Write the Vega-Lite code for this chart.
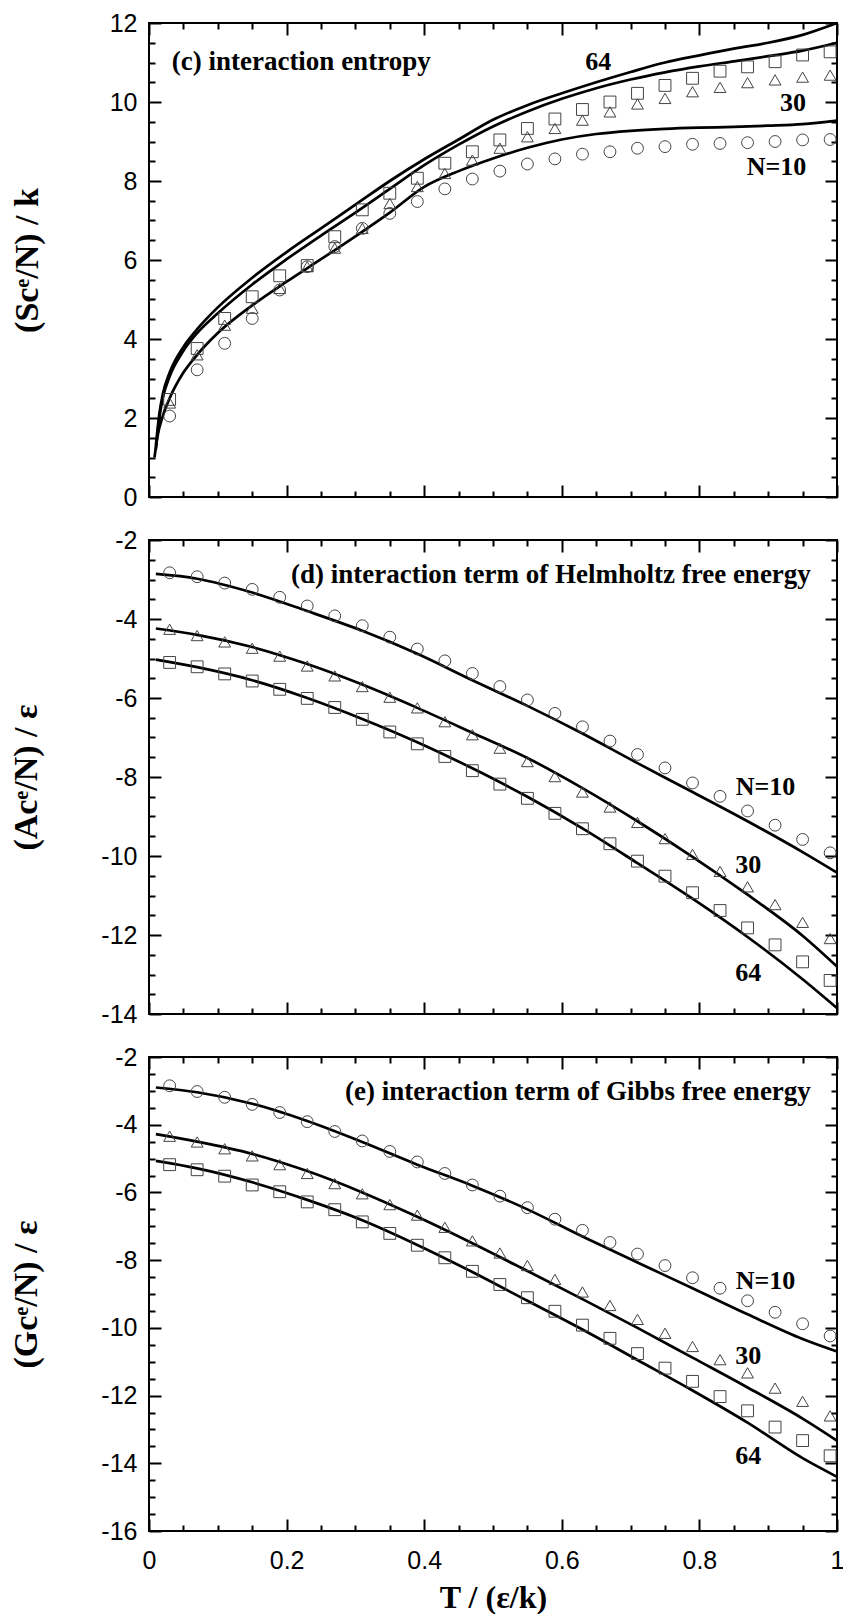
{
  "$schema": "https://vega.github.io/schema/vega-lite/v6.json",
  "background": "white",
  "padding": {"left": 8, "top": 10, "right": 0, "bottom": 0},
  "spacing": 16,
  "config": {
    "view": {"stroke": "black", "strokeWidth": 2},
    "axis": {"tickColor": "black", "tickWidth": 2, "domain": false, "grid": false, "labelColor": "black", "titleColor": "black", "labelFlush": false, "labelOverlap": false}
  },
  "datasets": {
    "lc": [
      {"N":"n64","T":0.01,"v":1.3},{"N":"n64","T":0.015,"v":2.1},{"N":"n64","T":0.02,"v":2.6},{"N":"n64","T":0.03,"v":3.15},{"N":"n64","T":0.05,"v":3.8},{"N":"n64","T":0.07,"v":4.25},{"N":"n64","T":0.1,"v":4.8},{"N":"n64","T":0.15,"v":5.55},{"N":"n64","T":0.2,"v":6.2},{"N":"n64","T":0.25,"v":6.8},{"N":"n64","T":0.3,"v":7.4},{"N":"n64","T":0.35,"v":8.0},{"N":"n64","T":0.4,"v":8.55},{"N":"n64","T":0.45,"v":9.05},{"N":"n64","T":0.5,"v":9.55},{"N":"n64","T":0.55,"v":9.92},{"N":"n64","T":0.6,"v":10.22},{"N":"n64","T":0.65,"v":10.5},{"N":"n64","T":0.7,"v":10.76},{"N":"n64","T":0.75,"v":11.0},{"N":"n64","T":0.8,"v":11.18},{"N":"n64","T":0.85,"v":11.35},{"N":"n64","T":0.9,"v":11.5},{"N":"n64","T":0.95,"v":11.7},{"N":"n64","T":1.0,"v":12.0},
      {"N":"n30","T":0.01,"v":1.2},{"N":"n30","T":0.015,"v":2.0},{"N":"n30","T":0.02,"v":2.5},{"N":"n30","T":0.03,"v":3.05},{"N":"n30","T":0.05,"v":3.7},{"N":"n30","T":0.07,"v":4.15},{"N":"n30","T":0.1,"v":4.65},{"N":"n30","T":0.15,"v":5.38},{"N":"n30","T":0.2,"v":6.02},{"N":"n30","T":0.25,"v":6.62},{"N":"n30","T":0.3,"v":7.2},{"N":"n30","T":0.35,"v":7.8},{"N":"n30","T":0.4,"v":8.4},{"N":"n30","T":0.45,"v":8.92},{"N":"n30","T":0.5,"v":9.38},{"N":"n30","T":0.55,"v":9.76},{"N":"n30","T":0.6,"v":10.08},{"N":"n30","T":0.65,"v":10.35},{"N":"n30","T":0.7,"v":10.57},{"N":"n30","T":0.75,"v":10.75},{"N":"n30","T":0.8,"v":10.9},{"N":"n30","T":0.85,"v":11.03},{"N":"n30","T":0.9,"v":11.16},{"N":"n30","T":0.95,"v":11.3},{"N":"n30","T":1.0,"v":11.5},
      {"N":"n10","T":0.008,"v":1.0},{"N":"n10","T":0.012,"v":1.5},{"N":"n10","T":0.02,"v":2.05},{"N":"n10","T":0.03,"v":2.5},{"N":"n10","T":0.05,"v":3.15},{"N":"n10","T":0.07,"v":3.6},{"N":"n10","T":0.1,"v":4.15},{"N":"n10","T":0.15,"v":4.85},{"N":"n10","T":0.2,"v":5.45},{"N":"n10","T":0.25,"v":6.02},{"N":"n10","T":0.3,"v":6.6},{"N":"n10","T":0.35,"v":7.2},{"N":"n10","T":0.4,"v":7.85},{"N":"n10","T":0.45,"v":8.25},{"N":"n10","T":0.5,"v":8.57},{"N":"n10","T":0.55,"v":8.84},{"N":"n10","T":0.6,"v":9.05},{"N":"n10","T":0.65,"v":9.19},{"N":"n10","T":0.7,"v":9.27},{"N":"n10","T":0.75,"v":9.32},{"N":"n10","T":0.8,"v":9.35},{"N":"n10","T":0.85,"v":9.37},{"N":"n10","T":0.9,"v":9.4},{"N":"n10","T":0.95,"v":9.44},{"N":"n10","T":1.0,"v":9.53}
    ],
    "ld": [
      {"N":"n10","T":0.01,"v":-2.86},{"N":"n10","T":0.07,"v":-2.98},{"N":"n10","T":0.15,"v":-3.33},{"N":"n10","T":0.23,"v":-3.8},{"N":"n10","T":0.31,"v":-4.3},{"N":"n10","T":0.39,"v":-4.88},{"N":"n10","T":0.47,"v":-5.55},{"N":"n10","T":0.55,"v":-6.2},{"N":"n10","T":0.63,"v":-6.9},{"N":"n10","T":0.71,"v":-7.65},{"N":"n10","T":0.79,"v":-8.38},{"N":"n10","T":0.87,"v":-9.12},{"N":"n10","T":0.95,"v":-9.9},{"N":"n10","T":1.0,"v":-10.42},
      {"N":"n30","T":0.01,"v":-4.24},{"N":"n30","T":0.07,"v":-4.4},{"N":"n30","T":0.15,"v":-4.71},{"N":"n30","T":0.23,"v":-5.14},{"N":"n30","T":0.31,"v":-5.66},{"N":"n30","T":0.39,"v":-6.25},{"N":"n30","T":0.47,"v":-6.88},{"N":"n30","T":0.55,"v":-7.52},{"N":"n30","T":0.63,"v":-8.28},{"N":"n30","T":0.71,"v":-9.12},{"N":"n30","T":0.79,"v":-10.02},{"N":"n30","T":0.87,"v":-10.98},{"N":"n30","T":0.95,"v":-12.02},{"N":"n30","T":1.0,"v":-12.8},
      {"N":"n64","T":0.01,"v":-5.03},{"N":"n64","T":0.07,"v":-5.22},{"N":"n64","T":0.15,"v":-5.55},{"N":"n64","T":0.23,"v":-6.0},{"N":"n64","T":0.31,"v":-6.53},{"N":"n64","T":0.39,"v":-7.12},{"N":"n64","T":0.47,"v":-7.78},{"N":"n64","T":0.55,"v":-8.5},{"N":"n64","T":0.63,"v":-9.3},{"N":"n64","T":0.71,"v":-10.18},{"N":"n64","T":0.79,"v":-11.08},{"N":"n64","T":0.87,"v":-12.05},{"N":"n64","T":0.95,"v":-13.12},{"N":"n64","T":1.0,"v":-13.85}
    ],
    "le": [
      {"N":"n10","T":0.01,"v":-2.9},{"N":"n10","T":0.07,"v":-3.04},{"N":"n10","T":0.15,"v":-3.38},{"N":"n10","T":0.23,"v":-3.89},{"N":"n10","T":0.31,"v":-4.51},{"N":"n10","T":0.39,"v":-5.18},{"N":"n10","T":0.47,"v":-5.8},{"N":"n10","T":0.55,"v":-6.5},{"N":"n10","T":0.63,"v":-7.3},{"N":"n10","T":0.71,"v":-8.07},{"N":"n10","T":0.79,"v":-8.83},{"N":"n10","T":0.87,"v":-9.6},{"N":"n10","T":0.95,"v":-10.33},{"N":"n10","T":1.0,"v":-10.7},
      {"N":"n30","T":0.01,"v":-4.28},{"N":"n30","T":0.07,"v":-4.5},{"N":"n30","T":0.15,"v":-4.86},{"N":"n30","T":0.23,"v":-5.37},{"N":"n30","T":0.31,"v":-6.0},{"N":"n30","T":0.39,"v":-6.72},{"N":"n30","T":0.47,"v":-7.5},{"N":"n30","T":0.55,"v":-8.32},{"N":"n30","T":0.63,"v":-9.15},{"N":"n30","T":0.71,"v":-10.0},{"N":"n30","T":0.79,"v":-10.88},{"N":"n30","T":0.87,"v":-11.76},{"N":"n30","T":0.95,"v":-12.68},{"N":"n30","T":1.0,"v":-13.33},
      {"N":"n64","T":0.01,"v":-5.07},{"N":"n64","T":0.07,"v":-5.29},{"N":"n64","T":0.15,"v":-5.7},{"N":"n64","T":0.23,"v":-6.22},{"N":"n64","T":0.31,"v":-6.82},{"N":"n64","T":0.39,"v":-7.55},{"N":"n64","T":0.47,"v":-8.35},{"N":"n64","T":0.55,"v":-9.2},{"N":"n64","T":0.63,"v":-10.05},{"N":"n64","T":0.71,"v":-10.95},{"N":"n64","T":0.79,"v":-11.85},{"N":"n64","T":0.87,"v":-12.8},{"N":"n64","T":0.95,"v":-13.85},{"N":"n64","T":1.0,"v":-14.4}
    ],
    "pc": [
      {"T":0.03,"n10":2.05,"n30":2.38,"n64":2.47},{"T":0.07,"n10":3.22,"n30":3.6,"n64":3.76},{"T":0.11,"n10":3.89,"n30":4.35,"n64":4.52},{"T":0.15,"n10":4.52,"n30":4.78,"n64":5.07},{"T":0.19,"n10":5.24,"n30":5.28,"n64":5.6},{"T":0.23,"n10":5.83,"n30":5.83,"n64":5.86},{"T":0.27,"n10":6.34,"n30":6.3,"n64":6.59},{"T":0.31,"n10":6.8,"n30":6.8,"n64":7.27},{"T":0.35,"n10":7.18,"n30":7.43,"n64":7.69},{"T":0.39,"n10":7.48,"n30":7.86,"n64":8.07},{"T":0.43,"n10":7.8,"n30":8.19,"n64":8.45},{"T":0.47,"n10":8.05,"n30":8.53,"n64":8.74},{"T":0.51,"n10":8.25,"n30":8.83,"n64":9.04},{"T":0.55,"n10":8.43,"n30":9.12,"n64":9.33},{"T":0.59,"n10":8.56,"n30":9.33,"n64":9.57},{"T":0.63,"n10":8.68,"n30":9.54,"n64":9.81},{"T":0.67,"n10":8.74,"n30":9.75,"n64":10.0},{"T":0.71,"n10":8.83,"n30":9.95,"n64":10.22},{"T":0.75,"n10":8.87,"n30":10.09,"n64":10.42},{"T":0.79,"n10":8.93,"n30":10.26,"n64":10.6},{"T":0.83,"n10":8.95,"n30":10.37,"n64":10.78},{"T":0.87,"n10":8.97,"n30":10.49,"n64":10.89},{"T":0.91,"n10":9.0,"n30":10.56,"n64":11.02},{"T":0.95,"n10":9.04,"n30":10.63,"n64":11.19},{"T":0.99,"n10":9.05,"n30":10.68,"n64":11.27}
    ],
    "pd": [
      {"T":0.03,"n10":-2.83,"n30":-4.26,"n64":-5.1},{"T":0.07,"n10":-2.93,"n30":-4.42,"n64":-5.21},{"T":0.11,"n10":-3.09,"n30":-4.58,"n64":-5.39},{"T":0.15,"n10":-3.25,"n30":-4.74,"n64":-5.57},{"T":0.19,"n10":-3.45,"n30":-4.94,"n64":-5.78},{"T":0.23,"n10":-3.67,"n30":-5.19,"n64":-6.01},{"T":0.27,"n10":-3.92,"n30":-5.44,"n64":-6.24},{"T":0.31,"n10":-4.17,"n30":-5.71,"n64":-6.54},{"T":0.35,"n10":-4.46,"n30":-5.98,"n64":-6.86},{"T":0.39,"n10":-4.76,"n30":-6.25,"n64":-7.16},{"T":0.43,"n10":-5.06,"n30":-6.6,"n64":-7.48},{"T":0.47,"n10":-5.38,"n30":-6.93,"n64":-7.84},{"T":0.51,"n10":-5.71,"n30":-7.27,"n64":-8.18},{"T":0.55,"n10":-6.05,"n30":-7.61,"n64":-8.54},{"T":0.59,"n10":-6.39,"n30":-7.99,"n64":-8.92},{"T":0.63,"n10":-6.73,"n30":-8.38,"n64":-9.31},{"T":0.67,"n10":-7.09,"n30":-8.76,"n64":-9.69},{"T":0.71,"n10":-7.43,"n30":-9.15,"n64":-10.13},{"T":0.75,"n10":-7.77,"n30":-9.56,"n64":-10.51},{"T":0.79,"n10":-8.15,"n30":-9.96,"n64":-10.93},{"T":0.83,"n10":-8.49,"n30":-10.39,"n64":-11.38},{"T":0.87,"n10":-8.86,"n30":-10.78,"n64":-11.82},{"T":0.91,"n10":-9.22,"n30":-11.23,"n64":-12.25},{"T":0.95,"n10":-9.58,"n30":-11.68,"n64":-12.68},{"T":0.99,"n10":-9.92,"n30":-12.09,"n64":-13.15}
    ],
    "pe": [
      {"T":0.03,"n10":-2.85,"n30":-4.34,"n64":-5.18},{"T":0.07,"n10":-3.02,"n30":-4.51,"n64":-5.33},{"T":0.11,"n10":-3.19,"n30":-4.71,"n64":-5.52},{"T":0.15,"n10":-3.4,"n30":-4.92,"n64":-5.78},{"T":0.19,"n10":-3.64,"n30":-5.18,"n64":-5.98},{"T":0.23,"n10":-3.91,"n30":-5.44,"n64":-6.28},{"T":0.27,"n10":-4.2,"n30":-5.74,"n64":-6.51},{"T":0.31,"n10":-4.48,"n30":-6.04,"n64":-6.87},{"T":0.35,"n10":-4.79,"n30":-6.36,"n64":-7.21},{"T":0.39,"n10":-5.1,"n30":-6.67,"n64":-7.56},{"T":0.43,"n10":-5.44,"n30":-7.03,"n64":-7.93},{"T":0.47,"n10":-5.78,"n30":-7.43,"n64":-8.33},{"T":0.51,"n10":-6.11,"n30":-7.79,"n64":-8.72},{"T":0.55,"n10":-6.45,"n30":-8.16,"n64":-9.11},{"T":0.59,"n10":-6.79,"n30":-8.57,"n64":-9.51},{"T":0.63,"n10":-7.12,"n30":-8.94,"n64":-9.92},{"T":0.67,"n10":-7.48,"n30":-9.34,"n64":-10.31},{"T":0.71,"n10":-7.82,"n30":-9.75,"n64":-10.76},{"T":0.75,"n10":-8.16,"n30":-10.16,"n64":-11.19},{"T":0.79,"n10":-8.52,"n30":-10.55,"n64":-11.58},{"T":0.83,"n10":-8.83,"n30":-10.94,"n64":-12.03},{"T":0.87,"n10":-9.2,"n30":-11.33,"n64":-12.45},{"T":0.91,"n10":-9.54,"n30":-11.78,"n64":-12.93},{"T":0.95,"n10":-9.88,"n30":-12.17,"n64":-13.33},{"T":0.99,"n10":-10.24,"n30":-12.6,"n64":-13.78}
    ],
    "labs": [
      {"p":"c","T":0.653,"v":11.02,"t":"64"},{"p":"c","T":0.936,"v":9.97,"t":"30"},{"p":"c","T":0.912,"v":8.36,"t":"N=10"},
      {"p":"d","T":0.896,"v":-8.26,"t":"N=10"},{"p":"d","T":0.871,"v":-10.24,"t":"30"},{"p":"d","T":0.871,"v":-12.95,"t":"64"},
      {"p":"e","T":0.896,"v":-8.61,"t":"N=10"},{"p":"e","T":0.871,"v":-10.83,"t":"30"},{"p":"e","T":0.871,"v":-13.78,"t":"64"}
    ],
    "ttl": [
      {"p":"c","T":0.033,"v":11.02,"t":"(c) interaction entropy"},
      {"p":"d","T":0.962,"v":-2.89,"t":"(d) interaction term of Helmholtz free energy"},
      {"p":"e","T":0.962,"v":-3.04,"t":"(e) interaction term of Gibbs free energy"}
    ]
  },
  "vconcat": [
    {
      "width": 688, "height": 474,
      "layer": [
        {
          "data": {"name": "lc"},
          "mark": {"type": "line", "color": "black", "strokeWidth": 2.7, "interpolate": "monotone"},
          "encoding": {
            "x": {"field": "T", "type": "quantitative", "scale": {"domain": [0, 1], "nice": false, "zero": false},
              "axis": {"orient": "bottom", "values": [0,0.05,0.1,0.15,0.2,0.25,0.3,0.35,0.4,0.45,0.5,0.55,0.6,0.65,0.7,0.75,0.8,0.85,0.9,0.95,1], "tickSize": {"condition": {"test": "abs(datum.value*5-round(datum.value*5))<0.001", "value": -12}, "value": -6}, "labels": false, "title": null}},
            "y": {"field": "v", "type": "quantitative", "scale": {"domain": [0, 12], "nice": false, "zero": false},
              "axis": {"orient": "left", "values": [0,0.5,1,1.5,2,2.5,3,3.5,4,4.5,5,5.5,6,6.5,7,7.5,8,8.5,9,9.5,10,10.5,11,11.5,12], "tickSize": {"condition": {"test": "datum.value % 2 === 0", "value": -12}, "value": -6}, "labelExpr": "datum.value % 2 === 0 ? '' + datum.value : ''", "labelFont": "Liberation Sans", "labelFontSize": 25, "labelPadding": 24, "title": "(Scᵉ/N) / k", "titleFont": "Liberation Serif", "titleFontWeight": "bold", "titleFontSize": 34, "titlePadding": 65}},
            "detail": {"field": "N"}
          }
        },
        {
          "data": {"name": "pc"},
          "transform": [{"fold": ["n10", "n30", "n64"], "as": ["N", "v"]}],
          "mark": {"type": "point", "filled": false, "stroke": "#444", "strokeWidth": 1, "size": 140, "opacity": 1},
          "encoding": {
            "x": {"field": "T", "type": "quantitative", "scale": {"domain": [0, 1], "nice": false, "zero": false},
              "axis": {"orient": "top", "values": [0,0.05,0.1,0.15,0.2,0.25,0.3,0.35,0.4,0.45,0.5,0.55,0.6,0.65,0.7,0.75,0.8,0.85,0.9,0.95,1], "tickSize": {"condition": {"test": "abs(datum.value*5-round(datum.value*5))<0.001", "value": -12}, "value": -6}, "labels": false, "title": null}},
            "y": {"field": "v", "type": "quantitative", "scale": {"domain": [0, 12], "nice": false, "zero": false},
              "axis": {"orient": "right", "values": [0,0.5,1,1.5,2,2.5,3,3.5,4,4.5,5,5.5,6,6.5,7,7.5,8,8.5,9,9.5,10,10.5,11,11.5,12], "tickSize": {"condition": {"test": "datum.value % 2 === 0", "value": -12}, "value": -6}, "labels": false, "title": null}},
            "shape": {"field": "N", "type": "nominal", "scale": {"domain": ["n10", "n30", "n64"], "range": ["circle", "triangle-up", "square"]}, "legend": null}
          }
        },
        {
          "data": {"name": "labs"},
          "transform": [{"filter": "datum.p === 'c'"}],
          "mark": {"type": "text", "font": "Liberation Serif", "fontWeight": "bold", "fontSize": 26, "align": "center", "baseline": "middle", "color": "black"},
          "encoding": {
            "x": {"field": "T", "type": "quantitative", "scale": {"domain": [0, 1], "nice": false, "zero": false}, "axis": null},
            "y": {"field": "v", "type": "quantitative", "scale": {"domain": [0, 12], "nice": false, "zero": false}, "axis": null},
            "text": {"field": "t"}
          }
        },
        {
          "data": {"name": "ttl"},
          "transform": [{"filter": "datum.p === 'c'"}],
          "mark": {"type": "text", "font": "Liberation Serif", "fontWeight": "bold", "fontSize": 27, "align": "left", "baseline": "middle", "color": "black"},
          "encoding": {
            "x": {"field": "T", "type": "quantitative", "scale": {"domain": [0, 1], "nice": false, "zero": false}, "axis": null},
            "y": {"field": "v", "type": "quantitative", "scale": {"domain": [0, 12], "nice": false, "zero": false}, "axis": null},
            "text": {"field": "t"}
          }
        }
      ],
      "resolve": {"axis": {"x": "independent", "y": "independent"}}
    },
    {
      "width": 688, "height": 474,
      "layer": [
        {
          "data": {"name": "ld"},
          "mark": {"type": "line", "color": "black", "strokeWidth": 2.7, "interpolate": "monotone"},
          "encoding": {
            "x": {"field": "T", "type": "quantitative", "scale": {"domain": [0, 1], "nice": false, "zero": false},
              "axis": {"orient": "bottom", "values": [0,0.05,0.1,0.15,0.2,0.25,0.3,0.35,0.4,0.45,0.5,0.55,0.6,0.65,0.7,0.75,0.8,0.85,0.9,0.95,1], "tickSize": {"condition": {"test": "abs(datum.value*5-round(datum.value*5))<0.001", "value": -12}, "value": -6}, "labels": false, "title": null}},
            "y": {"field": "v", "type": "quantitative", "scale": {"domain": [-14, -2], "nice": false, "zero": false},
              "axis": {"orient": "left", "values": [-14,-13.5,-13,-12.5,-12,-11.5,-11,-10.5,-10,-9.5,-9,-8.5,-8,-7.5,-7,-6.5,-6,-5.5,-5,-4.5,-4,-3.5,-3,-2.5,-2], "tickSize": {"condition": {"test": "datum.value % 2 === 0", "value": -12}, "value": -6}, "labelExpr": "datum.value % 2 === 0 ? '' + datum.value : ''", "labelFont": "Liberation Sans", "labelFontSize": 25, "labelPadding": 24, "title": "(Acᵉ/N) / ε", "titleFont": "Liberation Serif", "titleFontWeight": "bold", "titleFontSize": 34, "titlePadding": 57}},
            "detail": {"field": "N"}
          }
        },
        {
          "data": {"name": "pd"},
          "transform": [{"fold": ["n10", "n30", "n64"], "as": ["N", "v"]}],
          "mark": {"type": "point", "filled": false, "stroke": "#444", "strokeWidth": 1, "size": 140, "opacity": 1},
          "encoding": {
            "x": {"field": "T", "type": "quantitative", "scale": {"domain": [0, 1], "nice": false, "zero": false},
              "axis": {"orient": "top", "values": [0,0.05,0.1,0.15,0.2,0.25,0.3,0.35,0.4,0.45,0.5,0.55,0.6,0.65,0.7,0.75,0.8,0.85,0.9,0.95,1], "tickSize": {"condition": {"test": "abs(datum.value*5-round(datum.value*5))<0.001", "value": -12}, "value": -6}, "labels": false, "title": null}},
            "y": {"field": "v", "type": "quantitative", "scale": {"domain": [-14, -2], "nice": false, "zero": false},
              "axis": {"orient": "right", "values": [-14,-13.5,-13,-12.5,-12,-11.5,-11,-10.5,-10,-9.5,-9,-8.5,-8,-7.5,-7,-6.5,-6,-5.5,-5,-4.5,-4,-3.5,-3,-2.5,-2], "tickSize": {"condition": {"test": "datum.value % 2 === 0", "value": -12}, "value": -6}, "labels": false, "title": null}},
            "shape": {"field": "N", "type": "nominal", "scale": {"domain": ["n10", "n30", "n64"], "range": ["circle", "triangle-up", "square"]}, "legend": null}
          }
        },
        {
          "data": {"name": "labs"},
          "transform": [{"filter": "datum.p === 'd'"}],
          "mark": {"type": "text", "font": "Liberation Serif", "fontWeight": "bold", "fontSize": 26, "align": "center", "baseline": "middle", "color": "black"},
          "encoding": {
            "x": {"field": "T", "type": "quantitative", "scale": {"domain": [0, 1], "nice": false, "zero": false}, "axis": null},
            "y": {"field": "v", "type": "quantitative", "scale": {"domain": [-14, -2], "nice": false, "zero": false}, "axis": null},
            "text": {"field": "t"}
          }
        },
        {
          "data": {"name": "ttl"},
          "transform": [{"filter": "datum.p === 'd'"}],
          "mark": {"type": "text", "font": "Liberation Serif", "fontWeight": "bold", "fontSize": 27, "align": "right", "baseline": "middle", "color": "black"},
          "encoding": {
            "x": {"field": "T", "type": "quantitative", "scale": {"domain": [0, 1], "nice": false, "zero": false}, "axis": null},
            "y": {"field": "v", "type": "quantitative", "scale": {"domain": [-14, -2], "nice": false, "zero": false}, "axis": null},
            "text": {"field": "t"}
          }
        }
      ],
      "resolve": {"axis": {"x": "independent", "y": "independent"}}
    },
    {
      "width": 688, "height": 474,
      "layer": [
        {
          "data": {"name": "le"},
          "mark": {"type": "line", "color": "black", "strokeWidth": 2.7, "interpolate": "monotone"},
          "encoding": {
            "x": {"field": "T", "type": "quantitative", "scale": {"domain": [0, 1], "nice": false, "zero": false},
              "axis": {"orient": "bottom", "values": [0,0.05,0.1,0.15,0.2,0.25,0.3,0.35,0.4,0.45,0.5,0.55,0.6,0.65,0.7,0.75,0.8,0.85,0.9,0.95,1], "tickSize": {"condition": {"test": "abs(datum.value*5-round(datum.value*5))<0.001", "value": -12}, "value": -6}, "labelExpr": "abs(datum.value*5-round(datum.value*5))<0.001 ? '' + datum.value : ''", "labelFont": "Liberation Sans", "labelFontSize": 25, "labelPadding": 29, "title": "T / (ε/k)", "titleFont": "Liberation Serif", "titleFontWeight": "bold", "titleFontSize": 32, "titlePadding": 3}},
            "y": {"field": "v", "type": "quantitative", "scale": {"domain": [-16, -2], "nice": false, "zero": false},
              "axis": {"orient": "left", "values": [-16,-15.5,-15,-14.5,-14,-13.5,-13,-12.5,-12,-11.5,-11,-10.5,-10,-9.5,-9,-8.5,-8,-7.5,-7,-6.5,-6,-5.5,-5,-4.5,-4,-3.5,-3,-2.5,-2], "tickSize": {"condition": {"test": "datum.value % 2 === 0", "value": -12}, "value": -6}, "labelExpr": "datum.value % 2 === 0 ? '' + datum.value : ''", "labelFont": "Liberation Sans", "labelFontSize": 25, "labelPadding": 24, "title": "(Gcᵉ/N) / ε", "titleFont": "Liberation Serif", "titleFontWeight": "bold", "titleFontSize": 34, "titlePadding": 57}},
            "detail": {"field": "N"}
          }
        },
        {
          "data": {"name": "pe"},
          "transform": [{"fold": ["n10", "n30", "n64"], "as": ["N", "v"]}],
          "mark": {"type": "point", "filled": false, "stroke": "#444", "strokeWidth": 1, "size": 140, "opacity": 1},
          "encoding": {
            "x": {"field": "T", "type": "quantitative", "scale": {"domain": [0, 1], "nice": false, "zero": false},
              "axis": {"orient": "top", "values": [0,0.05,0.1,0.15,0.2,0.25,0.3,0.35,0.4,0.45,0.5,0.55,0.6,0.65,0.7,0.75,0.8,0.85,0.9,0.95,1], "tickSize": {"condition": {"test": "abs(datum.value*5-round(datum.value*5))<0.001", "value": -12}, "value": -6}, "labels": false, "title": null}},
            "y": {"field": "v", "type": "quantitative", "scale": {"domain": [-16, -2], "nice": false, "zero": false},
              "axis": {"orient": "right", "values": [-16,-15.5,-15,-14.5,-14,-13.5,-13,-12.5,-12,-11.5,-11,-10.5,-10,-9.5,-9,-8.5,-8,-7.5,-7,-6.5,-6,-5.5,-5,-4.5,-4,-3.5,-3,-2.5,-2], "tickSize": {"condition": {"test": "datum.value % 2 === 0", "value": -12}, "value": -6}, "labels": false, "title": null}},
            "shape": {"field": "N", "type": "nominal", "scale": {"domain": ["n10", "n30", "n64"], "range": ["circle", "triangle-up", "square"]}, "legend": null}
          }
        },
        {
          "data": {"name": "labs"},
          "transform": [{"filter": "datum.p === 'e'"}],
          "mark": {"type": "text", "font": "Liberation Serif", "fontWeight": "bold", "fontSize": 26, "align": "center", "baseline": "middle", "color": "black"},
          "encoding": {
            "x": {"field": "T", "type": "quantitative", "scale": {"domain": [0, 1], "nice": false, "zero": false}, "axis": null},
            "y": {"field": "v", "type": "quantitative", "scale": {"domain": [-16, -2], "nice": false, "zero": false}, "axis": null},
            "text": {"field": "t"}
          }
        },
        {
          "data": {"name": "ttl"},
          "transform": [{"filter": "datum.p === 'e'"}],
          "mark": {"type": "text", "font": "Liberation Serif", "fontWeight": "bold", "fontSize": 27, "align": "right", "baseline": "middle", "color": "black"},
          "encoding": {
            "x": {"field": "T", "type": "quantitative", "scale": {"domain": [0, 1], "nice": false, "zero": false}, "axis": null},
            "y": {"field": "v", "type": "quantitative", "scale": {"domain": [-16, -2], "nice": false, "zero": false}, "axis": null},
            "text": {"field": "t"}
          }
        }
      ],
      "resolve": {"axis": {"x": "independent", "y": "independent"}}
    }
  ]
}
